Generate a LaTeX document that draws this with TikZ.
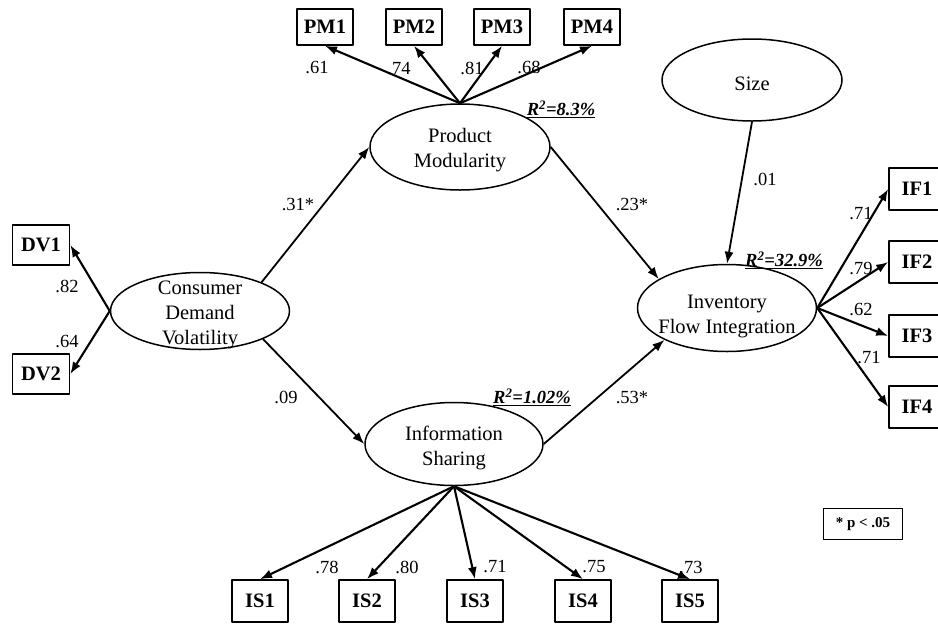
\documentclass[tikz,border=0pt]{standalone}
\usepackage{fontspec}
\setmainfont{Liberation Serif}
\usetikzlibrary{shapes.geometric,arrows.meta}
\tikzset{
  latent/.style={draw, ellipse, line width=1.5pt, inner sep=0pt, minimum width=180pt, minimum height=86pt,
    label={[font=\fontsize{20.5}{25}\selectfont, align=center, yshift=-3.5pt]center:{#1}}},
  ind/.style={draw, rectangle, line width=1.6pt, inner sep=0pt, minimum width=56pt, minimum height=38pt,
    font=\fontsize{20.5}{24}\selectfont\bfseries},
  load/.style={line width=2.1pt, -{Latex[length=12pt,width=9pt]}},
  path/.style={line width=1.8pt, -{Latex[length=12pt,width=9pt]}},
  coef/.style={inner sep=0pt, font=\fontsize{18.5}{20}\selectfont},
  rsq/.style={inner sep=0pt, font=\fontsize{18.5}{20}\selectfont\bfseries\itshape}
}
\begin{document}
\begin{tikzpicture}[x=1pt, y=-1pt, line join=round]
	\useasboundingbox (0,0) rectangle (938,625);
	\clip (0,0) rectangle (938,625);
	
	% latent constructs
	\node[latent={Product\\Modularity}] (pm) at (460,147) {};
	\node[latent={Consumer\\Demand\\Volatility}, minimum width=179pt, minimum height=77pt] (cdv) at (200,311) {};
	\node[latent={Information\\Sharing}, minimum width=178pt, minimum height=83pt] (is) at (454,444) {};
	\node[draw, ellipse, line width=1.5pt, inner sep=0pt, minimum width=179pt, minimum height=87pt,
		label={[font=\fontsize{20.5}{25}\selectfont, align=center, yshift=-8.5pt]center:{Inventory\\Flow Integration}}] (ifi) at (727,308) {};
	\node[latent={Size}, minimum height=82pt] (size) at (752,80) {};
	
	% indicators
	\foreach \n/\x in {PM1/325, PM2/414, PM3/502, PM4/592}
		\node[ind, minimum height=36pt] (\n) at (\x,27) {\n};
	\foreach \n/\x in {IS1/260, IS2/367, IS3/475, IS4/583, IS5/690}
		\node[ind, minimum height=42pt] (\n) at (\x,601) {\n};
	\foreach \n/\y in {IF1/189, IF2/262, IF3/336, IF4/407}
		\node[ind, minimum height=42pt] (\n) at (917,\y) {\n};
	\foreach \n/\y in {DV1/245, DV2/374}
		\node[ind, minimum width=57pt, minimum height=40pt] (\n) at (41,\y) {\n};
	
	\foreach \n in {PM1,PM2,PM3,PM4} \draw[load] (pm.north) -- (\n.south);
	\foreach \n in {IS1,IS2,IS3,IS4,IS5} \draw[load] (is.south) -- (\n.north);
	\foreach \n in {IF1,IF2,IF3,IF4} \draw[load] (ifi.east) -- (\n.west);
	\foreach \n in {DV1,DV2} \draw[load] (cdv.west) -- (\n.east);
	
	% structural paths
	\draw[path] (cdv.25) -- (pm.west);
	\draw[path] (pm.east) -- (ifi.157);
	\draw[path] (cdv.-24) -- (is.west);
	\draw[path] (is.east) -- (ifi.207);
	\draw[path] (size.south) -- (ifi.north);
	
	\foreach \t/\x/\y [count=\i] in {.61/317/68, .74/399/69, .81/472/68, .68/529/67,
		.82/67/286, .64/67/341,
		.71/861/214, .79/861/268, .62/861/309, .71/869/358,
		.78/327/567, .80/407/567, .71/495/567, .75/594/567, .73/691/567,
		.31*/298/204, .23*/632/204, .09/286/397, .53*/632/397, .01/765/179}
		\node[coef] (c\i) at (\x,\y) {\t};
	
	\node[rsq] (rpm) at (561,109) {\underline{R\textsuperscript{2}=8.3\%}};
	\node[rsq] (ris) at (532,397) {\underline{R\textsuperscript{2}=1.02\%}};
	\node[rsq] (rifi) at (784,260) {\underline{R\textsuperscript{2}=32.9\%}};
	
	\node[draw, line width=1.6pt, inner sep=0pt, minimum width=79pt, minimum height=31pt,
		font=\fontsize{15}{18}\selectfont\bfseries] (note) at (863,524) {* p < .05};
\end{tikzpicture}
\end{document}
